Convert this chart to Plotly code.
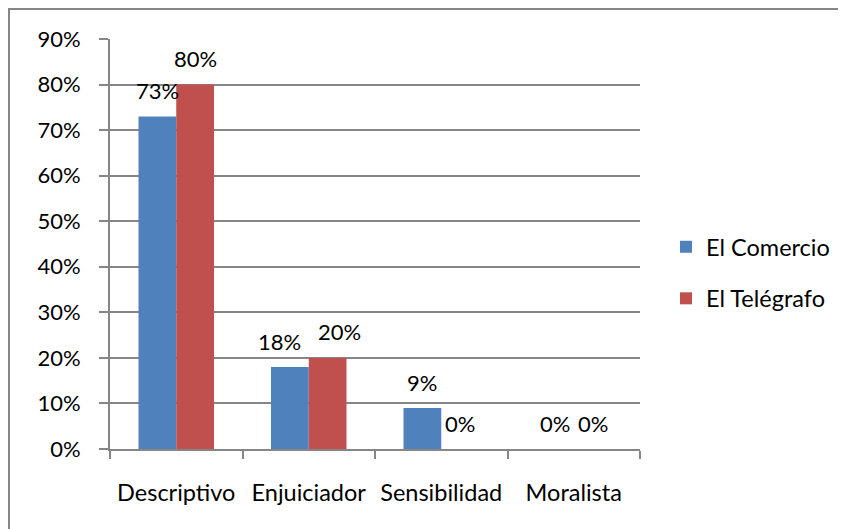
import plotly.graph_objects as go

categories = ["Descriptivo", "Enjuiciador", "Sensibilidad", "Moralista"]
el_comercio = [0.73, 0.18, 0.09, 0.0]
el_telegrafo = [0.80, 0.20, 0.0, 0.0]
y_ticks = [0, 0.1, 0.2, 0.3, 0.4, 0.5, 0.6, 0.7, 0.8, 0.9]
y_tick_labels = ["0%", "10%", "20%", "30%", "40%", "50%", "60%", "70%", "80%", "90%"]

BLUE = "#4F81BD"
RED = "#C0504D"
GRID = "#868686"
FONT = "Lato"
FS = 23.5
FS_NUM = 22

# label nudges (pixels) to keep adjacent labels apart, as in the original
label_nudge = {("Enjuiciador", 0): -10, ("Enjuiciador", 1): 12}

fig = go.Figure()
fig.add_trace(go.Bar(name="El Comercio", x=categories, y=el_comercio,
                     marker=dict(color=BLUE, line=dict(width=0)),
                     legendgroup="a"))
fig.add_trace(go.Bar(name="El Telégrafo", x=categories, y=el_telegrafo,
                     marker=dict(color=RED, line=dict(width=0)),
                     legendgroup="b"))

annotations = []
for si, (series, shift) in enumerate(((el_comercio, -19), (el_telegrafo, 19))):
    for c, v in zip(categories, series):
        annotations.append(dict(x=c, y=v, xref="x", yref="y", text=f"{round(v*100)}%",
                                showarrow=False,
                                xshift=shift + label_nudge.get((c, si), 0), yshift=26,
                                font=dict(family=FONT, size=FS_NUM, color="#000000")))

# figure is placed 8px from page corner (body margin)
OFF = 8
W, H = 846 - OFF, 529 - OFF
L, T = 110 - OFF, 39 - OFF
R = W - (640 - OFF)
B = H - (449 - OFF)
pw, ph = W - L - R, H - T - B

def px_x(p):
    return (p - OFF - L) / pw

def px_y(p):
    return (449 - p) / ph

bx0, by0, bx1, by1 = px_x(9), px_y(560), px_x(900), px_y(9)
border_path = f"M {bx0},{by0} L {bx0},{by1} L {bx1},{by1}"

fig.update_layout(
    width=W, height=H,
    margin=dict(l=L, r=R, t=T, b=B, pad=0, autoexpand=False),
    paper_bgcolor="white", plot_bgcolor="white",
    barmode="group", bargap=0.43, bargroupgap=0,
    font=dict(family=FONT, size=FS, color="#000000"),
    xaxis=dict(type="category", tickson="boundaries", ticks="outside", ticklen=8,
               tickcolor=GRID, tickwidth=2, showline=True, linecolor=GRID, linewidth=2,
               showgrid=False, tickfont=dict(family=FONT, size=FS), ticklabelstandoff=22,
               tickangle=0, automargin=False),
    yaxis=dict(range=[0, 0.9], tickvals=y_ticks, ticktext=y_tick_labels,
               ticks="outside", ticklen=9, tickcolor=GRID, tickwidth=2,
               showline=True, linecolor=GRID, linewidth=2,
               showgrid=True, gridcolor=GRID, gridwidth=2, zeroline=False,
               tickfont=dict(family=FONT, size=FS_NUM), ticklabelstandoff=14,
               automargin=False),
    legend=dict(x=px_x(666), y=px_y(273), xanchor="left", yanchor="middle",
                traceorder="grouped", tracegroupgap=18, itemwidth=30,
                font=dict(family=FONT, size=FS), bgcolor="rgba(0,0,0,0)"),
    annotations=annotations,
    shapes=[dict(type="path", xref="paper", yref="paper", path=border_path,
                 line=dict(color=GRID, width=2), fillcolor="rgba(0,0,0,0)", layer="below")],
)

fig.write_html("out.html")
